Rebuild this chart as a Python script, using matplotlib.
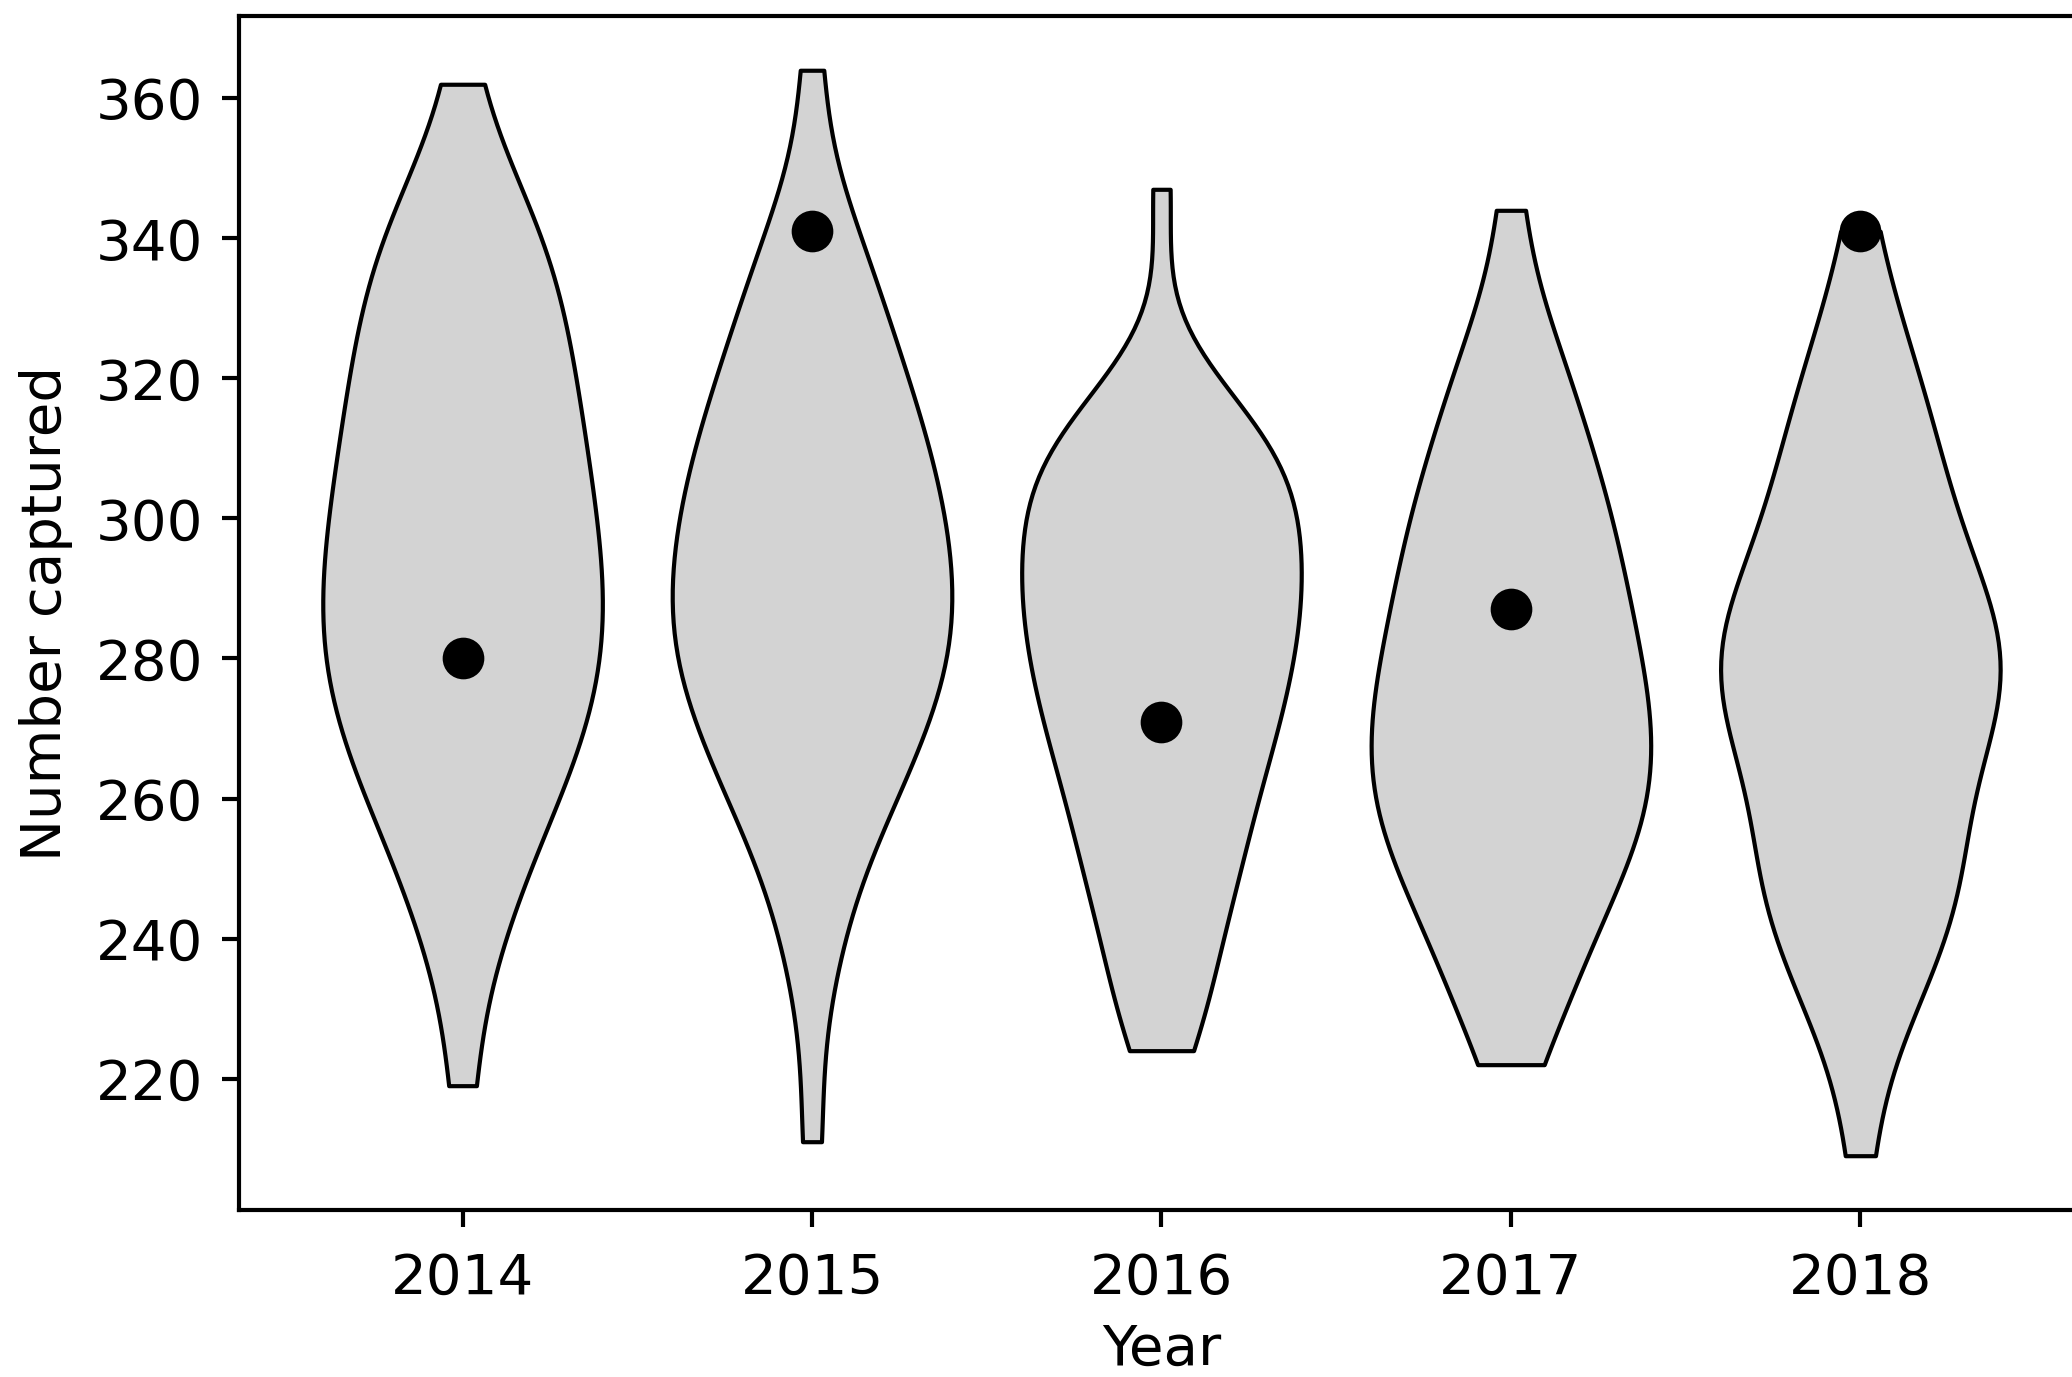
import matplotlib
matplotlib.use("Agg")
import matplotlib.pyplot as plt

# Capture counts per sampling event, by year
years = [2014, 2015, 2016, 2017, 2018]

counts_2014 = [219, 236, 242, 247, 251, 255, 258, 261, 263, 265, 267, 269, 271, 273,
               275, 277, 279, 280, 282, 284, 285, 287, 289, 290, 292, 294, 296, 298,
               300, 302, 303, 305, 307, 309, 311, 314, 316, 318, 320, 322, 324, 327,
               329, 332, 334, 337, 340, 343, 345, 348, 362]
counts_2015 = [211, 233, 241, 248, 253, 256, 259, 262, 264, 266, 268, 270, 272, 274,
               276, 277, 279, 280, 282, 283, 285, 286, 288, 289, 291, 292, 294, 296,
               297, 299, 300, 302, 304, 306, 307, 309, 311, 313, 315, 317, 319, 322,
               324, 327, 330, 333, 337, 341, 345, 364]
counts_2016 = [224, 227, 231, 236, 240, 243, 246, 249, 251, 254, 256, 258, 261, 263,
               265, 267, 269, 270, 272, 274, 275, 277, 279, 280, 282, 283, 285, 286,
               288, 289, 290, 292, 293, 295, 296, 298, 299, 301, 302, 304, 305, 307,
               308, 310, 311, 312, 314, 316, 320, 347]
counts_2017 = [222, 227, 231, 235, 238, 241, 243, 246, 248, 250, 252, 253, 255, 257,
               258, 260, 261, 263, 264, 266, 267, 269, 270, 272, 273, 275, 277, 278,
               280, 282, 283, 285, 287, 289, 291, 293, 295, 297, 299, 301, 303, 306,
               308, 311, 314, 317, 321, 325, 329, 344]
counts_2018 = [209, 224, 229, 233, 236, 239, 242, 244, 246, 248, 250, 252, 254, 256,
               259, 262, 264, 266, 268, 270, 271, 273, 274, 276, 277, 279, 280, 281,
               283, 284, 286, 287, 289, 291, 293, 295, 298, 300, 303, 305, 308, 311,
               314, 317, 321, 325, 330, 341]

# Single highlighted count for each year
highlight = [280, 341, 271, 287, 341]

all_counts = [counts_2014, counts_2015, counts_2016, counts_2017, counts_2018]

plt.rcParams["font.size"] = 13.5

fig = plt.figure(figsize=(2072 / 300, 1377 / 300), dpi=300)
ax = fig.add_axes([0.1153, 0.1213, 0.8905, 0.8671])

parts = ax.violinplot(all_counts, positions=years, widths=0.8,
                      showextrema=False, bw_method=0.37)
for body in parts["bodies"]:
    body.set_facecolor("lightgray")
    body.set_edgecolor("black")
    body.set_linewidth(1.0)
    body.set_alpha(1)

ax.plot(years, highlight, "o", color="black", markersize=9, zorder=3)

ax.set_xticks(years)
ax.set_xlabel("Year", labelpad=4)
ax.set_ylabel("Number captured", labelpad=5.5)
for sp in ax.spines.values():
    sp.set_linewidth(1.0)
ax.tick_params(length=4, width=1.0)
ax.tick_params(axis="x", pad=6)
ax.tick_params(axis="y", pad=4.5)

fig.savefig("out.png", dpi=300)
